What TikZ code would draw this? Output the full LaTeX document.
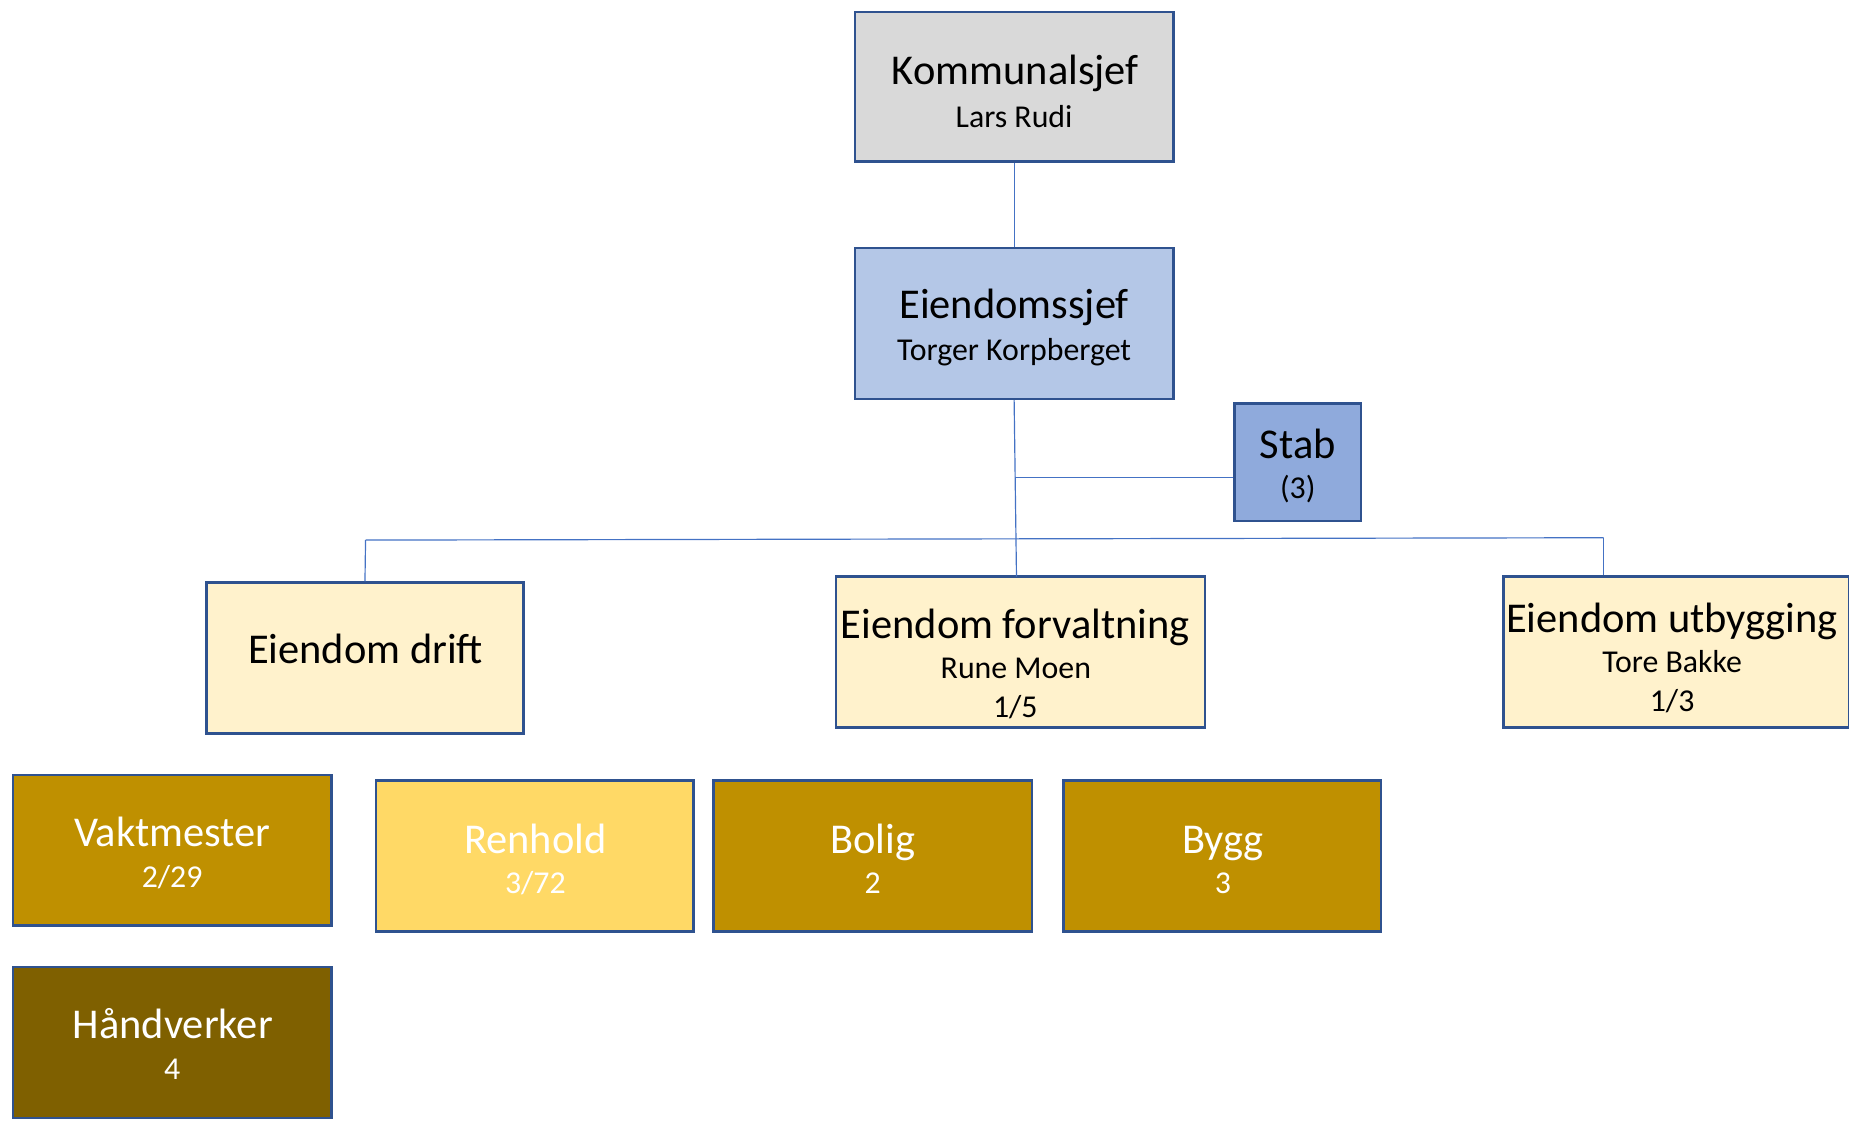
\documentclass[tikz,border=0pt]{standalone}
\usepackage{fontspec}
\setmainfont{Carlito}
\definecolor{boxline}{HTML}{2F528F}
\definecolor{conn}{HTML}{4472C4}
\definecolor{kgray}{HTML}{D9D9D9}
\definecolor{eblue}{HTML}{B4C7E7}
\definecolor{sblue}{HTML}{8FAADC}
\definecolor{cream}{HTML}{FFF2CC}
\definecolor{gold}{HTML}{BF9000}
\definecolor{lgold}{HTML}{FFD966}
\definecolor{dgold}{HTML}{7F6000}
\begin{document}
\begin{tikzpicture}[x=1pt,y=-1pt,
  box/.style={draw=boxline, line width=2.1pt, rectangle, inner sep=0pt},
  mt/.style={anchor=base, inner sep=0pt, font=\fontsize{36}{40}\selectfont},
  st/.style={anchor=base, inner sep=0pt, font=\fontsize{27}{32}\selectfont},
  cl/.style={draw=conn, line width=1pt}]
\useasboundingbox (0,0) rectangle (1568,950);
% boxes
\node[box, fill=kgray, minimum width=270pt, minimum height=127pt] (k) at (860,73.5) {};
\node[box, fill=eblue, minimum width=270pt, minimum height=128pt] (e) at (860,274.2) {};
\node[box, fill=sblue, minimum width=107pt, minimum height=100pt] (s) at (1100.5,392) {};
\node[box, fill=cream, minimum width=269pt, minimum height=128pt] (d) at (309.5,558) {};
\node[box, fill=cream, minimum width=313pt, minimum height=128pt] (f) at (865.5,553) {};
\node[box, fill=cream, minimum width=293pt, minimum height=128pt] (u) at (1421.5,553) {};
\node[box, fill=gold, minimum width=270pt, minimum height=128pt] (v) at (146,721) {};
\node[box, fill=lgold, minimum width=269pt, minimum height=128pt] (r) at (453.5,726) {};
\node[box, fill=gold, minimum width=270pt, minimum height=128pt] (b) at (740,726) {};
\node[box, fill=gold, minimum width=269pt, minimum height=128pt] (g) at (1036.5,726) {};
\node[box, fill=dgold, minimum width=270pt, minimum height=128pt] (h) at (146,884) {};
% texts
\node[mt] (k1) at (861,71.5) {Kommunalsjef};
\node[st] (k2) at (860,108) {Lars Rudi};
\node[mt] (e1) at (860,270.5) {Eiendomssjef};
\node[st] (e2) at (860,305.5) {Torger Korpberget};
\node[mt] (s1) at (1100.5,389) {Stab};
\node[st] (s2) at (1100.5,422.5) {(3)};
\node[mt] (d1) at (310,562.5) {Eiendom drift};
\node[mt] (f1) at (861,541.5) {Eiendom forvaltning};
\node[st] (f2) at (861.5,575.5) {Rune Moen};
\node[st] (f3) at (861,608.5) {1/5};
\node[mt] (u1) at (1418,536.5) {Eiendom utbygging};
\node[st] (u2) at (1418,570.5) {Tore Bakke};
\node[st] (u3) at (1418,603.5) {1/3};
\node[mt, text=white] (v1) at (146,717.5) {Vaktmester};
\node[st, text=white] (v2) at (146,752.5) {2/29};
\node[mt, text=white] (r1) at (454,723.5) {Renhold};
\node[st, text=white] (r2) at (454,757.5) {3/72};
\node[mt, text=white] (b1) at (740,723.5) {Bolig};
\node[st, text=white] (b2) at (740,757.5) {2};
\node[mt, text=white] (g1) at (1037,723.5) {Bygg};
\node[st, text=white] (g2) at (1037,757.5) {3};
\node[mt, text=white] (h1) at (146.5,880.5) {Håndverker};
\node[st, text=white] (h2) at (146,915.5) {4};
% connectors
\coordinate (jf) at (862,489);
\coordinate (js) at (861.5,405);
\coordinate (jd) at (310,458);
\coordinate (ju) at (1360,456);
\draw[cl] (k.south) -- (e.north);
\draw[cl] (e.south) -- (jf);
\draw[cl] (js) -- (js -| s.west);
\draw[cl] (jd) -- (ju);
\draw[cl] (jd) -- (d.north);
\draw[cl] (ju) -- (ju |- u.north);
\end{tikzpicture}
\end{document}
